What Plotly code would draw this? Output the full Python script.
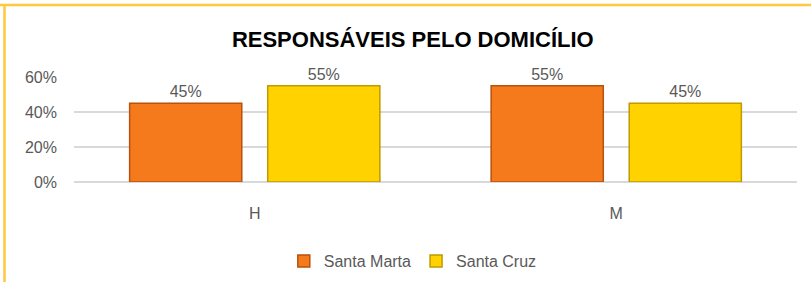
import plotly.graph_objects as go

categories = ["H", "M"]
santa_marta = [0.45, 0.55]
santa_cruz = [0.55, 0.45]
series_names = ["Santa Marta", "Santa Cruz"]
y_ticks = [0, 0.2, 0.4, 0.6]
y_tick_labels = ["0%", "20%", "40%", "60%"]
title_text = "RESPONSÁVEIS PELO DOMICÍLIO"

FONT = "Liberation Sans"
GRAY = "#595959"

fig = go.Figure()
fig.add_trace(go.Bar(
    name=series_names[0], x=categories, y=santa_marta,
    marker=dict(color="#F57A1C", line=dict(color="#B8520C", width=1.5)),
    text=[f"{v:.0%}" for v in santa_marta], textposition="outside",
    textfont=dict(family=FONT, size=16, color=GRAY), cliponaxis=False,
))
fig.add_trace(go.Bar(
    name=series_names[1], x=categories, y=santa_cruz,
    marker=dict(color="#FFD200", line=dict(color="#BF9A00", width=1.5)),
    text=[f"{v:.0%}" for v in santa_cruz], textposition="outside",
    textfont=dict(family=FONT, size=16, color=GRAY), cliponaxis=False,
))

fig.update_layout(
    width=811, height=284,
    margin=dict(l=74, r=14, t=77, b=102),
    paper_bgcolor="white", plot_bgcolor="white",
    barmode="group", bargap=0.236, bargroupgap=0.188,
    font=dict(family=FONT, size=16, color=GRAY),
    title=dict(text=f"<b>{title_text}</b>", xref="container", x=0.509, xanchor="center",
               yref="container", y=1 - 39 / 284, yanchor="middle",
               font=dict(family=FONT, size=22, color="#000000")),
    showlegend=True,
    legend=dict(orientation="h", xref="container", x=0.509, xanchor="center",
                yref="container", y=1 - 261 / 284, yanchor="middle",
                font=dict(family=FONT, size=16, color=GRAY), itemwidth=30,
                traceorder="normal"),
    shapes=[
        dict(type="line", xref="paper", yref="paper", x0=-74 / 723, x1=1.05,
             y0=1 + 72 / 105, y1=1 + 72 / 105, line=dict(color="#FFC83D", width=2.5)),
        dict(type="line", xref="paper", yref="paper", x0=-69.5 / 723, x1=-69.5 / 723,
             y0=1 + 72 / 105, y1=-100 / 105, line=dict(color="#FFC83D", width=2.5)),
    ],
)
fig.update_xaxes(showgrid=False, showline=False, ticks="", ticklabelstandoff=20,
                 tickfont=dict(family=FONT, size=16, color=GRAY))
fig.update_yaxes(range=[0, 0.6], tickvals=y_ticks, ticktext=y_tick_labels,
                 showgrid=True, gridcolor="#D9D9D9", gridwidth=1.5,
                 zeroline=True, zerolinecolor="#D9D9D9", zerolinewidth=1.5,
                 showline=False, ticks="", ticklabelstandoff=16,
                 tickfont=dict(family=FONT, size=16, color=GRAY))

fig.write_html("out.html", config={"displayModeBar": False},
               post_script="document.body.style.margin='0';")
